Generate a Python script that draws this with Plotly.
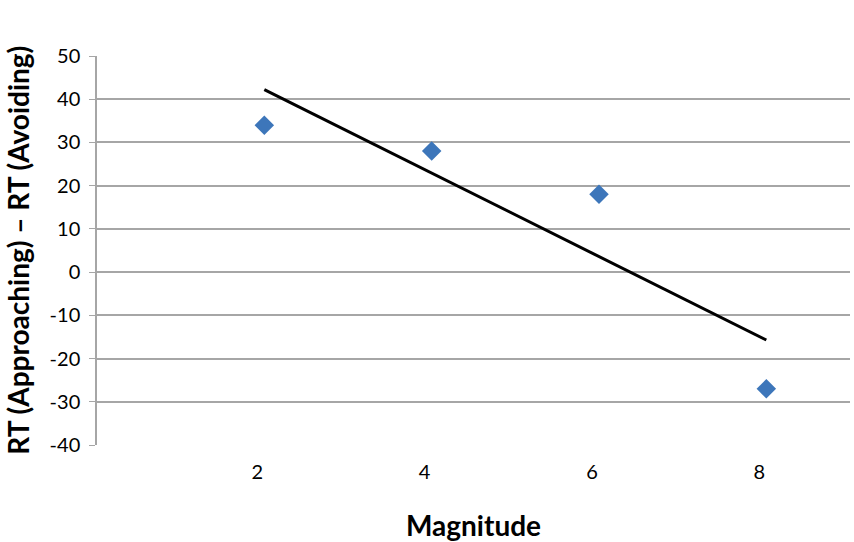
import plotly.graph_objects as go

magnitude = [2, 4, 6, 8]
rt_diff = [34, 28, 18, -27]
trend_x = [2, 8]
trend_y = [42.2, -15.7]
y_ticks = [-40, -30, -20, -10, 0, 10, 20, 30, 40, 50]
y_labels = ["-40", "-30", "-20", "-10", "0", "10", "20", "30", "40", "50"]
x_ticks = [2, 4, 6, 8]
x_labels = ["2", "4", "6", "8"]

fig = go.Figure()
fig.add_trace(go.Scatter(x=trend_x, y=trend_y, mode="lines",
                         line=dict(color="black", width=3), showlegend=False))
fig.add_trace(go.Scatter(x=magnitude, y=rt_diff, mode="markers",
                         marker=dict(symbol="diamond", size=15, color="#3D76BA"),
                         showlegend=False))

fig.update_layout(
    width=854, height=542,
    margin=dict(l=97, r=4, t=56, b=97),
    paper_bgcolor="white", plot_bgcolor="white",
    font=dict(family="Lato, Open Sans, sans-serif", color="black"),
    xaxis=dict(range=[0, 9], tickvals=x_ticks, ticktext=x_labels,
               showgrid=False, zeroline=False, showline=False, ticks="",
               tickfont=dict(size=20), ticklabelshift=-7, ticklabelstandoff=13,
               title=dict(text="<b>Magnitude</b>", font=dict(size=28), standoff=36)),
    yaxis=dict(range=[-40, 50], tickvals=y_ticks, ticktext=y_labels,
               showgrid=True, gridcolor="#A6A6A6",
               gridwidth=1.5, zeroline=False, showline=True, linecolor="#A6A6A6",
               linewidth=1.5, ticks="outside", ticklen=6, tickcolor="#A6A6A6",
               tickfont=dict(size=20), ticklabelstandoff=5),
    annotations=[dict(text="<b>RT (Approaching) – RT (Avoiding)</b>",
                      xref="paper", yref="paper", x=-0.106, y=0.5,
                      xanchor="center", yanchor="middle", textangle=-90,
                      showarrow=False, borderpad=0, font=dict(size=28))],
)

fig.write_html("out.html", config={"displayModeBar": False},
               post_script="document.body.style.margin='0';document.body.style.padding='0';")
